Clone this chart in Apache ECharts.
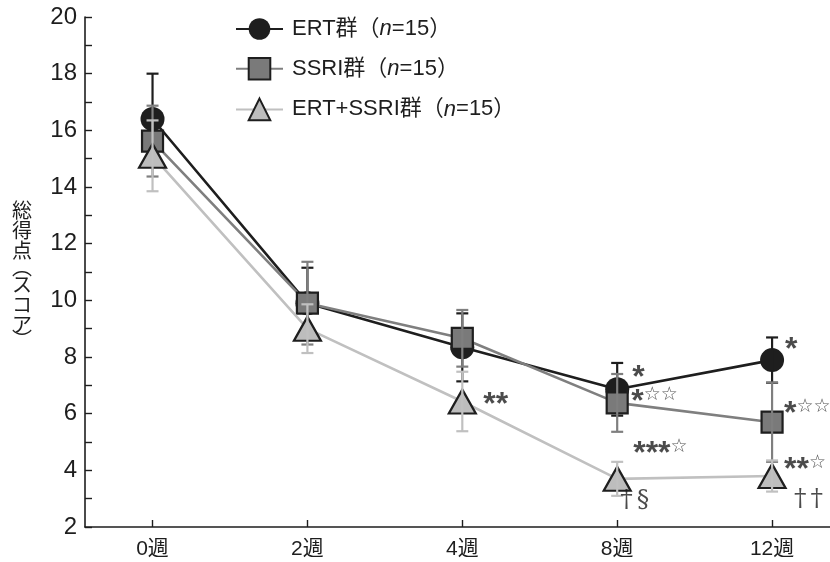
<!DOCTYPE html>
<html><head><meta charset="utf-8">
<script src="https://cdn.jsdelivr.net/npm/echarts@6/dist/echarts.min.js"></script>
<style>html,body{margin:0;padding:0;background:#fff}#c{width:830px;height:562px}</style>
</head><body><div id="c"></div>
<script>
const categories = ['0週', '2週', '4週', '8週', '12週'];
const seriesNames = ['ERT群（n=15）', 'SSRI群（n=15）', 'ERT+SSRI群（n=15）'];
const ertMean = [16.4, 9.9, 8.34, 6.86, 7.89];
const ertErr = [1.6, 1.25, 1.2, 0.93, 0.8];
const ssriMean = [15.62, 9.9, 8.66, 6.38, 5.7];
const ssriErr = [1.25, 1.46, 1.0, 1.02, 1.4];
const comboMean = [15.1, 9.0, 6.43, 3.7, 3.8];
const comboErr = [1.25, 0.86, 1.05, 0.6, 0.55];
const ertNotes = ['', '', '', '*', '*'];
const ssriNotes = ['', '', '', '*☆☆', '*☆☆'];
const comboNotes = ['', '', '**', '***☆', '**☆'];
const comboNotesBelow = ['', '', '', '†§', '††'];
const yTicks = [2, 4, 6, 8, 10, 12, 14, 16, 18, 20];

const FONT = "'Liberation Sans', Arial, 'Noto Sans CJK JP', sans-serif";
const INK = '#1e1e1e';
const chart = echarts.init(document.getElementById('c'));

function errSeries(means, errs, color, z) {
  return {
    type: 'custom', z: z, silent: true,
    encode: { x: 0, y: [1, 2] },
    data: means.map((m, i) => [i, m - errs[i], m + errs[i]]),
    renderItem: function (params, api) {
      const x = api.value(0);
      const lo = api.coord([x, api.value(1)]);
      const hi = api.coord([x, api.value(2)]);
      const w = 6;
      const st = { stroke: color, lineWidth: 2.2 };
      return { type: 'group', children: [
        { type: 'line', shape: { x1: lo[0], y1: lo[1], x2: hi[0], y2: hi[1] }, style: st },
        { type: 'line', shape: { x1: hi[0] - w, y1: hi[1], x2: hi[0] + w, y2: hi[1] }, style: st },
        { type: 'line', shape: { x1: lo[0] - w, y1: lo[1], x2: lo[0] + w, y2: lo[1] }, style: st }
      ] };
    }
  };
}

function noteRich(s) {
  return s.split('').map(ch => ch === '*' ? '{a|*}' : ch === '☆' ? '{b|☆}' : '{d|' + ch + '}').join('');
}
const richNote = {
  a: { fontFamily: FONT, fontSize: 32, fontWeight: 'bold', color: INK, padding: [14, 0, 0, 0] },
  b: { fontFamily: "'DejaVu Sans', sans-serif", fontSize: 19, color: INK },
  d: { fontFamily: "'DejaVu Serif', serif", fontSize: 25, color: INK, padding: [0, 4, 0, 0] }
};

function noteSeries(means, notes, offsets, z) {
  const data = [];
  notes.forEach((t, i) => {
    if (t) data.push({ value: [i, means[i]], label: { offset: offsets[i], formatter: noteRich(t) } });
  });
  return {
    type: 'scatter', symbolSize: 0, z: z, silent: true, data: data,
    label: { show: true, position: 'inside', align: 'left', verticalAlign: 'middle', rich: richNote }
  };
}

function lineSeries(name, means, lineColor, fill, symbol, size, z) {
  return {
    name: name, type: 'line', z: z,
    data: means.map((m, i) => [i, m]),
    symbol: symbol, symbolSize: size,
    lineStyle: { color: lineColor, width: 2.6 },
    itemStyle: { color: fill, borderColor: INK, borderWidth: symbol === 'circle' ? 0 : 2.2 },
    emphasis: { disabled: true }
  };
}

chart.setOption({
  animation: false,
  textStyle: { fontFamily: FONT },
  grid: { left: 85, right: 0, top: 17, bottom: 35 },
  legend: {
    orient: 'vertical', left: 235, top: 18, padding: 0,
    itemWidth: 47, itemHeight: 27, itemGap: 17,
    data: seriesNames,
    formatter: function (n) { return n.replace('（n=', '（{i|n}='); },
    textStyle: {
      fontFamily: FONT, fontSize: 22, color: INK, padding: [0, 0, 0, 4],
      rich: { i: { fontFamily: FONT, fontSize: 22, fontStyle: 'italic', color: INK } }
    }
  },
  xAxis: {
    type: 'value', min: -0.436, max: 4.374,
    axisLine: { show: true, onZero: false, lineStyle: { color: INK, width: 1.6 } },
    axisTick: { show: true, inside: true, length: 7, customValues: [0, 1, 2, 3, 4], lineStyle: { color: INK, width: 1.4 } },
    axisLabel: {
      customValues: [0, 1, 2, 3, 4], margin: 12,
      formatter: function (v) { return categories[Math.round(v)]; },
      fontFamily: FONT, fontSize: 21, color: INK
    },
    splitLine: { show: false }
  },
  yAxis: {
    type: 'value', min: 2, max: 20, interval: 1,
    name: '{c|総}\n{c|得}\n{c|点}\n{p|︵}\n{c|ス}\n{c|コ}\n{c|ア}\n{q|︶}',
    nameLocation: 'middle', nameGap: 53, nameRotate: 0,
    nameTextStyle: {
      fontFamily: "'Noto Sans CJK JP'", fontSize: 20, color: INK,
      rich: {
        c: { fontFamily: "'Noto Sans CJK JP'", fontSize: 20, lineHeight: 20, color: INK },
        p: { fontFamily: "'Noto Sans CJK JP'", fontSize: 20, lineHeight: 14, color: INK },
        q: { fontFamily: "'Noto Sans CJK JP'", fontSize: 20, lineHeight: 10, color: INK }
      }
    },
    axisLine: { show: true, onZero: false, lineStyle: { color: INK, width: 1.6 } },
    axisTick: { show: true, inside: true, length: 7, lineStyle: { color: INK, width: 1.4 } },
    axisLabel: {
      margin: 8, fontFamily: FONT, fontSize: 24, color: INK,
      formatter: function (v) { return yTicks.indexOf(v) >= 0 ? String(v) : ''; }
    },
    splitLine: { show: false }
  },
  series: [
    lineSeries(seriesNames[0], ertMean, INK, INK, 'circle', 24, 2),
    errSeries(ertMean, ertErr, INK, 3),
    lineSeries(seriesNames[1], ssriMean, '#7f7f7f', '#7a7a7a', 'rect', 21, 4),
    errSeries(ssriMean, ssriErr, '#7f7f7f', 5),
    lineSeries(seriesNames[2], comboMean, '#c0c0c0', '#bdbdbd', 'triangle', [27, 24], 6),
    errSeries(comboMean, comboErr, '#c0c0c0', 7),
    noteSeries(ertMean, ertNotes, [null, null, null, [15, -18], [13, -17]], 10),
    noteSeries(ssriMean, ssriNotes, [null, null, null, [14, -8], [12, -15]], 10),
    noteSeries(comboMean, comboNotes, [null, null, [21, -3], [16, -32], [12, -13]], 10),
    noteSeries(comboMean, comboNotesBelow, [null, null, null, [3, 22], [22, 23]], 10)
  ]
});
</script></body></html>
